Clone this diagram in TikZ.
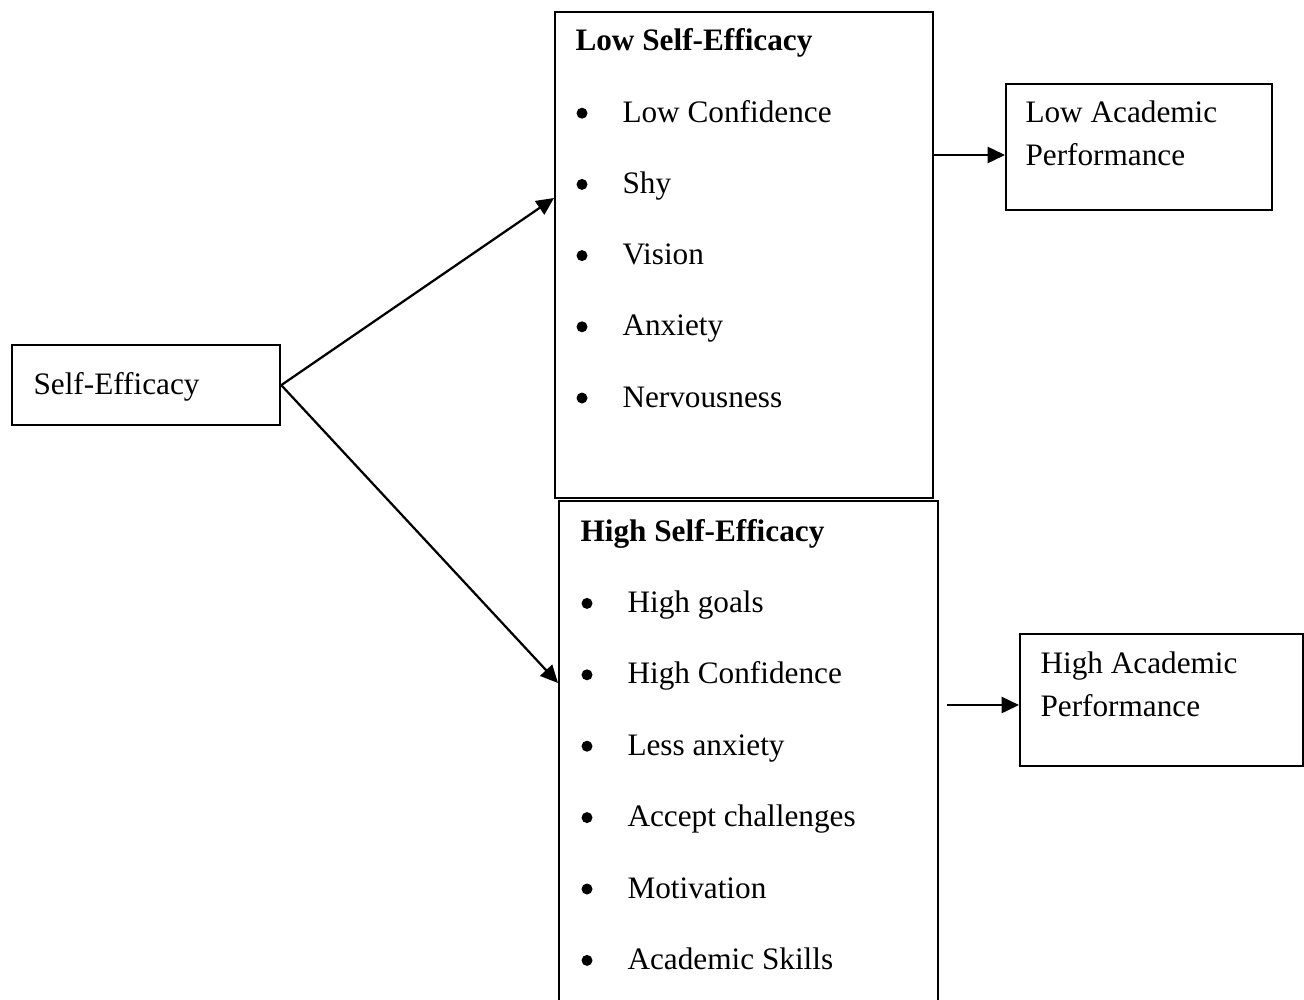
\documentclass[tikz,border=0pt]{standalone}
\usepackage{fontspec}
\setmainfont{Liberation Serif}
\usetikzlibrary{arrows.meta}

\begin{document}
\begin{tikzpicture}[x=0.4pt, y=-0.4pt, font=\fontsize{12.5}{15}\selectfont]
\tikzstyle{box} = [rectangle, draw = black, line width=0.9pt, anchor=north west, inner sep=0pt]
\tikzstyle{txt} = [anchor=base west, inner sep=0pt]
\tikzstyle{dot} = [circle, fill = black, inner sep=0pt, minimum size=4.4pt]
\tikzstyle{edge} = [-{Triangle[length=7pt, width=6.5pt]}, line width=0.9pt]
\clip (0,0) rectangle (1304,999);
% boxes
\node[box, minimum width=107.2pt, minimum height=32pt] (se) at (11,344) {};
\node[box, minimum width=151.2pt, minimum height=194.4pt] (low) at (554,11) {};
\node[box, minimum width=106.4pt, minimum height=50.4pt] (lap) at (1005,83) {};
\node[box, minimum width=151.6pt, minimum height=206pt] (high) at (558,500) {};
\node[box, minimum width=113.2pt, minimum height=52.8pt] (hap) at (1019,633) {};
% texts
\node[txt] (setxt) at (33,394) {Self-Efficacy};
\node[txt] (lowtitle) at (575,51) {\textbf{Low Self-Efficacy}};
\foreach \item [count=\i] in {Low Confidence, Shy, Vision, Anxiety, Nervousness} {
  \node[dot] (lowb\i) at (582,42+71.2*\i) {};
  \node[txt] (lowi\i) at (622,51+71.2*\i) {\item};
}
\node[txt] (laptxt) at (1025,122) {Low Academic};
\node[txt] (laptxtb) at (1025,165) {Performance};
\node[txt] (hightitle) at (580,541) {\textbf{High Self-Efficacy}};
\foreach \item [count=\i] in {High goals, High Confidence, Less anxiety, Accept challenges, Motivation, Academic Skills} {
  \node[dot] (highb\i) at (587,532+71.4*\i) {};
  \node[txt] (highi\i) at (627,541+71.4*\i) {\item};
}
\node[txt] (haptxt) at (1040,673) {High Academic};
\node[txt] (haptxtb) at (1040,716) {Performance};
% arrows
\draw[edge] (se.east) -- (low.north west |- 0,198);
\draw[edge] (se.east) -- (high.north west |- 0,683);
\draw[edge] (low.north east |- 0,155) -- (lap.north west |- 0,155);
\draw[edge] (947,705) -- (hap.north west |- 0,705);
\end{tikzpicture}
\end{document}
